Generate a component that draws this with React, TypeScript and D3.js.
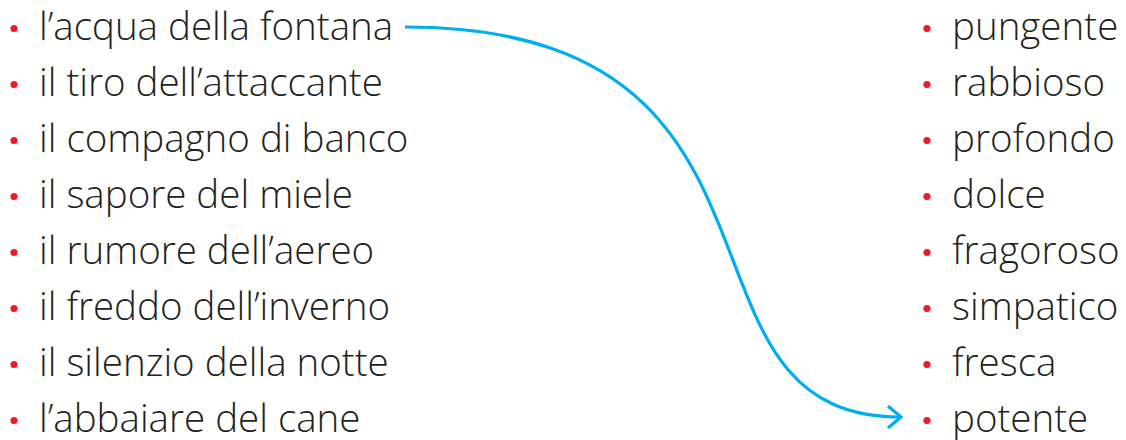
import React, { useEffect, useRef } from "react";
import * as d3 from "d3";

const leftItems = [
  "l’acqua della fontana",
  "il tiro dell’attaccante",
  "il compagno di banco",
  "il sapore del miele",
  "il rumore dell’aereo",
  "il freddo dell’inverno",
  "il silenzio della notte",
  "l’abbaiare del cane",
];

const rightItems = [
  "pungente",
  "rabbioso",
  "profondo",
  "dolce",
  "fragoroso",
  "simpatico",
  "fresca",
  "potente",
];

const links = [{ source: 0, target: 7 }];

const W = 1126;
const H = 440;
const TEXT_COLOR = "#231f20";
const BULLET_COLOR = "#ed1c24";
const ARROW_COLOR = "#00aeef";
const FONT = "'Open Sans', sans-serif";
const FONT_SIZE = 38.5;

export default function App() {
  const ref = useRef<SVGSVGElement | null>(null);

  useEffect(() => {
    document.body.style.margin = "0";
    const svg = d3.select(ref.current);
    svg.selectAll("*").remove();

    const y = d3
      .scalePoint<number>()
      .domain(d3.range(leftItems.length))
      .range([28, 420]);

    const columns = [
      { items: leftItems, bulletX: 14, textX: 39 },
      { items: rightItems, bulletX: 927, textX: 952 },
    ];

    columns.forEach((col) => {
      const g = svg.append("g");
      g.selectAll("circle")
        .data(col.items)
        .join("circle")
        .attr("cx", col.bulletX)
        .attr("cy", (_d, i) => y(i)! + 0.5)
        .attr("r", 3.6)
        .attr("fill", BULLET_COLOR);
      g.selectAll("text")
        .data(col.items)
        .join("text")
        .attr("x", col.textX)
        .attr("y", (_d, i) => y(i)! + 11.5)
        .attr("font-family", FONT)
        .attr("font-weight", 300)
        .attr("font-size", FONT_SIZE)
        .attr("fill", TEXT_COLOR)
        .text((d) => d);
    });

    const x0 = 405;
    const x1 = 901;
    links.forEach((l) => {
      const y0 = y(l.source)! - 1;
      const y1 = y(l.target)! - 3;
      const dx = x1 - x0;
      const p = d3.path();
      p.moveTo(x0, y0);
      p.bezierCurveTo(x0 + 0.85 * dx, y0, x0 + 0.5 * dx, y1, x1 - 1, y1);
      svg
        .append("path")
        .attr("d", p.toString())
        .attr("fill", "none")
        .attr("stroke", ARROW_COLOR)
        .attr("stroke-width", 3.2)
        .attr("stroke-linecap", "butt");
      const h = d3.path();
      h.moveTo(x1 - 13, y1 - 11);
      h.lineTo(x1, y1);
      h.lineTo(x1 - 13, y1 + 11);
      svg
        .append("path")
        .attr("d", h.toString())
        .attr("fill", "none")
        .attr("stroke", ARROW_COLOR)
        .attr("stroke-width", 3.2)
        .attr("stroke-linejoin", "miter");
    });
  }, []);

  return (
    <svg
      ref={ref}
      width={W}
      height={H}
      style={{ display: "block", background: "#fff" }}
    />
  );
}
